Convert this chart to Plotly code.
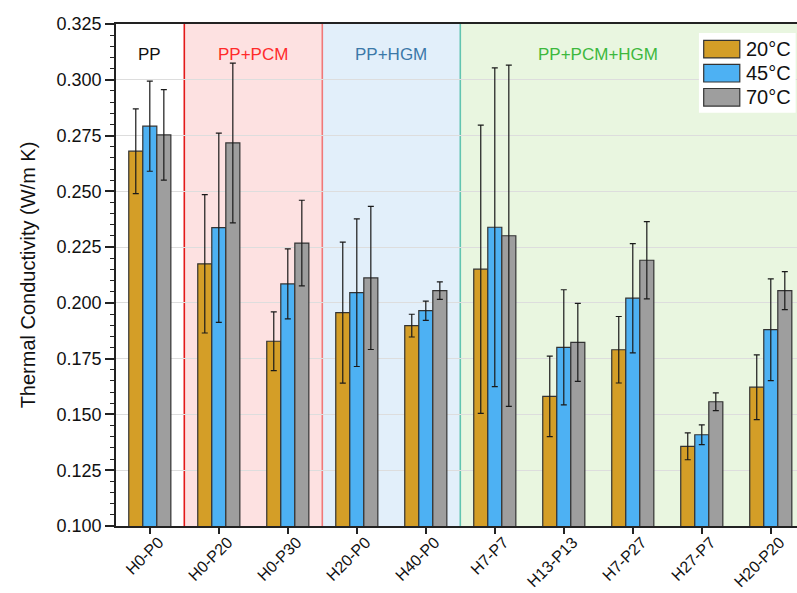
import plotly.graph_objects as go

# Samples and measured thermal conductivity (W/m K) at three temperatures
samples = ["H0-P0", "H0-P20", "H0-P30", "H20-P0", "H40-P0",
           "H7-P7", "H13-P13", "H7-P27", "H27-P7", "H20-P20"]
temps = ["20°C", "45°C", "70°C"]

k_20 = [0.2680, 0.2175, 0.1828, 0.1956, 0.1898, 0.2151, 0.1581, 0.1790, 0.1357, 0.1622]
k_45 = [0.2792, 0.2337, 0.2085, 0.2046, 0.1965, 0.2339, 0.1801, 0.2021, 0.1409, 0.1880]
k_70 = [0.2753, 0.2717, 0.2268, 0.2112, 0.2055, 0.2301, 0.1823, 0.2191, 0.1557, 0.2055]

err_20 = [0.0190, 0.0310, 0.0132, 0.0316, 0.0051, 0.0646, 0.0180, 0.0149, 0.0060, 0.0145]
err_45 = [0.0202, 0.0424, 0.0157, 0.0331, 0.0043, 0.0714, 0.0258, 0.0245, 0.0044, 0.0228]
err_70 = [0.0203, 0.0358, 0.0192, 0.0321, 0.0039, 0.0765, 0.0175, 0.0173, 0.0040, 0.0085]

# Sample families: (label, first index, last index, background, divider, text colour)
groups = [
    ("PP", 0, 0, None, None, "#111111"),
    ("PP+PCM", 1, 2, "#FDE1E1", "#E31A1A", "#FF2A2A"),
    ("PP+HGM", 3, 4, "#E2EFFA", "#F07878", "#3B78A8"),
    ("PP+PCM+HGM", 5, 9, "#E9F6E0", "#62C4B0", "#3DB83D"),
]

FONT = "Liberation Sans, Arial, sans-serif"
fills = ["#D49E27", "#4DB1F3", "#9E9E9E"]
X_RANGE = [-0.49, 9.38]
Y_RANGE = [0.100, 0.325]

fig = go.Figure()
for name, vals, errs, col in zip(temps, [k_20, k_45, k_70], [err_20, err_45, err_70], fills):
    fig.add_trace(go.Bar(
        x=samples, y=vals, name=name, showlegend=False,
        marker=dict(color=col, line=dict(color="#333333", width=1.2)),
        error_y=dict(type="data", array=errs, visible=True,
                     color="#1a1a1a", thickness=1.2, width=3),
    ))

shapes = []
annotations = []
for label, i0, i1, bg, div, tc in groups:
    left = i0 - 0.5
    right = i1 + 0.5 if i1 < len(samples) - 1 else X_RANGE[1]
    if bg:
        shapes.append(dict(type="rect", xref="x", yref="paper", x0=left, x1=right,
                           y0=0, y1=1, fillcolor=bg, line=dict(width=0), layer="below"))
        shapes.append(dict(type="line", xref="x", yref="paper", x0=left, x1=left,
                           y0=0, y1=1, line=dict(color=div, width=1.6), layer="below"))
    annotations.append(dict(x=(i0 + i1) / 2 if i1 < len(samples) - 1 else 6.5,
                            y=0.962, xref="x", yref="paper", text=label,
                            showarrow=False, font=dict(family=FONT, size=17, color=tc)))

# Legend panel with coloured swatches
shapes.append(dict(type="rect", xref="paper", yref="paper", x0=0.856, x1=0.998,
                   y0=0.823, y1=0.982, fillcolor="white", line=dict(width=0), layer="above"))
row_y = [0.950, 0.902, 0.854]
for name, col, yc in zip(temps, fills, row_y):
    shapes.append(dict(type="rect", xref="paper", yref="paper", x0=0.863, x1=0.916,
                       y0=yc - 0.0175, y1=yc + 0.0175, fillcolor=col,
                       line=dict(color="#333333", width=1.2), layer="above"))
    annotations.append(dict(x=0.922, y=yc, xref="paper", yref="paper", text=name,
                            xanchor="left", yanchor="middle", showarrow=False,
                            font=dict(family=FONT, size=20, color="#111111")))

fig.update_layout(
    width=797, height=593,
    margin=dict(l=116, r=0, t=24, b=67),
    paper_bgcolor="white", plot_bgcolor="white",
    barmode="group", bargap=0.39, bargroupgap=0,
    shapes=shapes, annotations=annotations,
    font=dict(family=FONT, color="#111111"),
    showlegend=False,
)
fig.update_xaxes(
    type="category", range=X_RANGE, automargin=False,
    showline=True, linecolor="#222222", linewidth=1.6, mirror=True,
    ticks="outside", ticklen=6, tickwidth=1.5, tickcolor="#222222",
    tickangle=-45, tickfont=dict(family=FONT, size=16, color="#111111"),
    ticklabelshift=9, ticklabelstandoff=-7,
    showgrid=False,
)
fig.update_yaxes(
    range=Y_RANGE, dtick=0.025, tick0=0.1, tickformat=".3f", automargin=False,
    showline=True, linecolor="#222222", linewidth=1.6,
    ticks="outside", ticklen=9, tickwidth=1.5, tickcolor="#222222",
    minor=dict(dtick=0.005, ticks="outside", ticklen=4, tickwidth=1.2,
               tickcolor="#222222", showgrid=False),
    showgrid=True, gridcolor="#DDDDDD", gridwidth=1,
    tickfont=dict(family=FONT, size=18, color="#111111"),
    title=dict(text="Thermal Conductivity (W/m K)", standoff=16,
               font=dict(family=FONT, size=20, color="#111111")),
    zeroline=False,
)

fig.write_html("out.html")
